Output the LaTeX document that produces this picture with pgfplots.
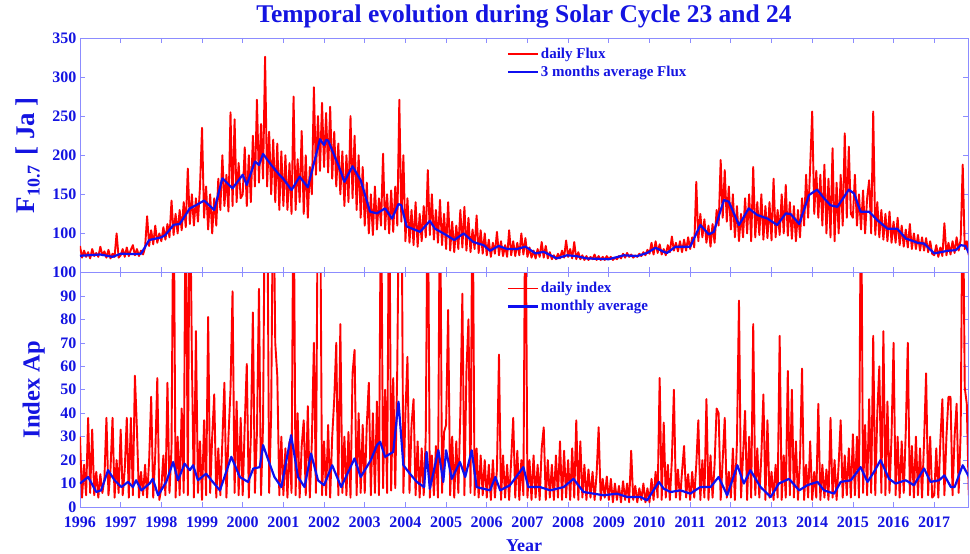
\documentclass[border=0pt]{standalone}
\usepackage{fontspec}
\setmainfont{Liberation Serif}
\usepackage{pgfplots}
\pgfplotsset{compat=1.18}
\definecolor{txtblue}{RGB}{20,20,225}
\definecolor{frameblue}{RGB}{140,140,255}
\definecolor{avgblue}{RGB}{15,15,240}
\definecolor{dayred}{RGB}{255,0,0}

\pgfplotsset{
  solarpanel/.style={
    scale only axis, width=888pt, height=234.5pt,
    xmin=1996, xmax=2017.83,
    xtick={1996,...,2017},
    axis line style={frameblue, line width=0.6pt},
    every tick/.style={frameblue, line width=0.6pt},
    major tick length=5pt,
    tick align=inside,
    /pgf/number format/assume math mode=true,
    /pgf/number format/1000 sep={},
    ticklabel style={font=\fontsize{16}{18}\selectfont\bfseries, text=txtblue},
    xticklabel style={yshift=-6pt},
    legend style={draw=none, fill=none, font=\fontsize{15}{18}\selectfont\bfseries,
      text=txtblue, at={(0.477,0.975)}, anchor=north west, row sep=2pt},
    legend cell align=left,
    legend image code/.code={\draw[##1] (0pt,0pt) -- (30pt,0pt);},
    ylabel style={anchor=center, text=txtblue},
  },
  daily/.style={dayred, line width=1.9pt, line join=round},
  average/.style={avgblue, line width=2.2pt, line join=round},
}

\begin{document}
\begin{tikzpicture}
% ---- lower panel: Ap index
\begin{axis}[solarpanel, at={(0pt,0pt)}, anchor=south west,
  ymin=0, ymax=100, ytick={0,10,...,100},
  xlabel={Year},
  xlabel style={at={(axis description cs:0.5,0)}, anchor=base, yshift=-45pt,
    font=\fontsize{18}{20}\selectfont\bfseries, text=txtblue},
  ylabel={Index Ap},
  ylabel style={at={(axis description cs:-0.052,0.5)}, font=\fontsize{24.5}{26}\selectfont\bfseries}]
\addplot[daily] table[header=false, row sep=\\, y index=0,
  x expr={1996+0.05*\coordindex}] {
30\\ 4\\ 18\\ 5\\ 38\\ 6\\ 33\\ 5\\ 15\\ 4\\ 14\\ 6\\ 12\\ 38\\ 5\\ 16\\ 38\\ 4\\ 20\\ 6\\
33\\ 5\\ 16\\ 38\\ 4\\ 38\\ 5\\ 56\\ 33\\ 4\\ 15\\ 5\\ 18\\ 4\\ 20\\ 47\\ 4\\ 22\\ 55\\ 3\\
8\\ 22\\ 5\\ 53\\ 6\\ 25\\ 150\\ 4\\ 30\\ 5\\ 42\\ 6\\ 150\\ 5\\ 150\\ 64\\ 4\\ 75\\ 6\\ 28\\
3\\ 37\\ 5\\ 81\\ 6\\ 30\\ 48\\ 4\\ 25\\ 5\\ 28\\ 53\\ 4\\ 30\\ 50\\ 92\\ 6\\ 45\\ 5\\ 38\\
5\\ 35\\ 61\\ 4\\ 30\\ 83\\ 6\\ 32\\ 93\\ 5\\ 35\\ 150\\ 150\\ 6\\ 40\\ 150\\ 70\\ 56\\ 5\\ 30\\
5\\ 25\\ 4\\ 28\\ 6\\ 150\\ 5\\ 40\\ 4\\ 26\\ 37\\ 5\\ 43\\ 4\\ 28\\ 70\\ 6\\ 150\\ 150\\ 5\\
28\\ 5\\ 35\\ 4\\ 30\\ 46\\ 70\\ 5\\ 78\\ 6\\ 30\\ 5\\ 32\\ 4\\ 57\\ 67\\ 5\\ 40\\ 6\\ 35\\
6\\ 35\\ 53\\ 5\\ 40\\ 6\\ 45\\ 5\\ 150\\ 8\\ 50\\ 6\\ 150\\ 7\\ 55\\ 8\\ 60\\ 150\\ 150\\ 6\\
40\\ 64\\ 6\\ 35\\ 46\\ 5\\ 28\\ 4\\ 25\\ 5\\ 30\\ 150\\ 4\\ 22\\ 5\\ 26\\ 4\\ 150\\ 6\\ 32\\
35\\ 84\\ 5\\ 30\\ 4\\ 28\\ 6\\ 40\\ 91\\ 5\\ 58\\ 80\\ 6\\ 150\\ 5\\ 25\\ 4\\ 22\\ 5\\ 20\\
4\\ 18\\ 3\\ 20\\ 4\\ 16\\ 65\\ 3\\ 22\\ 4\\ 18\\ 3\\ 20\\ 38\\ 4\\ 24\\ 3\\ 20\\ 5\\ 150\\
4\\ 20\\ 3\\ 22\\ 4\\ 18\\ 3\\ 25\\ 34\\ 3\\ 20\\ 4\\ 18\\ 3\\ 22\\ 4\\ 28\\ 3\\ 24\\ 4\\
20\\ 3\\ 25\\ 4\\ 37\\ 3\\ 28\\ 4\\ 18\\ 3\\ 16\\ 4\\ 15\\ 3\\ 14\\ 34\\ 3\\ 12\\ 4\\ 13\\
3\\ 12\\ 2\\ 10\\ 3\\ 9\\ 2\\ 11\\ 3\\ 10\\ 2\\ 24\\ 3\\ 9\\ 2\\ 8\\ 3\\ 10\\ 2\\ 8\\
2\\ 12\\ 3\\ 15\\ 4\\ 55\\ 3\\ 36\\ 4\\ 18\\ 3\\ 20\\ 50\\ 4\\ 16\\ 3\\ 15\\ 26\\ 4\\ 14\\
3\\ 15\\ 4\\ 18\\ 37\\ 3\\ 20\\ 4\\ 46\\ 3\\ 22\\ 4\\ 18\\ 42\\ 40\\ 3\\ 20\\ 38\\ 4\\ 15\\
4\\ 25\\ 3\\ 28\\ 88\\ 4\\ 22\\ 41\\ 3\\ 30\\ 4\\ 78\\ 5\\ 25\\ 4\\ 22\\ 48\\ 3\\ 37\\ 4\\
15\\ 3\\ 18\\ 4\\ 73\\ 3\\ 22\\ 4\\ 58\\ 5\\ 50\\ 4\\ 28\\ 3\\ 20\\ 59\\ 3\\ 18\\ 4\\ 28\\
3\\ 15\\ 4\\ 44\\ 3\\ 18\\ 4\\ 16\\ 3\\ 38\\ 4\\ 20\\ 3\\ 18\\ 37\\ 4\\ 22\\ 5\\ 25\\ 4\\
31\\ 5\\ 30\\ 4\\ 150\\ 6\\ 35\\ 5\\ 46\\ 6\\ 73\\ 5\\ 40\\ 60\\ 6\\ 75\\ 5\\ 45\\ 6\\ 30\\
70\\ 5\\ 30\\ 4\\ 28\\ 6\\ 32\\ 70\\ 5\\ 26\\ 4\\ 30\\ 5\\ 25\\ 4\\ 28\\ 57\\ 5\\ 30\\ 4\\
5\\ 25\\ 4\\ 28\\ 46\\ 5\\ 30\\ 47\\ 47\\ 5\\ 30\\ 44\\ 6\\ 32\\ 150\\ 51\\ 44\\ 5\\
};
\addlegendentry{daily index}
\addplot[average] coordinates {
(1996.0,10) (1996.2,12.8) (1996.4,6.4) (1996.52,7.1) (1996.69,15.7) (1996.85,11.4)
(1997.02,8.5) (1997.18,10.7) (1997.3,8.5) (1997.38,11.4) (1997.51,7.1) (1997.71,10)
(1997.79,12) (1997.92,5) (1998.12,10.7) (1998.29,19.2) (1998.41,11.4) (1998.57,18.5)
(1998.7,15.7) (1998.78,17.8) (1998.9,11.4) (1999.1,14.2) (1999.23,11.4) (1999.44,7.1)
(1999.72,21.4) (1999.93,12.8) (2000.13,10.7) (2000.26,16.4) (2000.42,17) (2000.5,26.4)
(2000.66,18.5) (2000.78,12.8) (2000.95,8.5) (2001.19,30.6) (2001.36,12.8) (2001.52,8.5)
(2001.68,22.8) (2001.85,11.4) (2002.0,9.3) (2002.2,17.8) (2002.42,8.5) (2002.75,20.7)
(2002.9,12.8) (2003.15,20) (2003.3,26.4) (2003.38,27.8) (2003.5,21.4) (2003.7,23.5)
(2003.83,44.9) (2003.95,17.8) (2004.11,14.2) (2004.28,10.7) (2004.46,8.5) (2004.52,23.5)
(2004.6,7.8) (2004.81,24.2) (2004.93,10.7) (2005.0,24.2) (2005.14,12) (2005.34,19.2)
(2005.47,12.8) (2005.63,24.2) (2005.75,8.5) (2006.08,7.1) (2006.21,12.8) (2006.33,7.1)
(2006.57,9.3) (2006.9,17) (2007.02,8.5) (2007.31,8.5) (2007.56,7.1) (2007.89,8.5)
(2008.13,12) (2008.38,6.4) (2008.87,5) (2009.2,5.7) (2009.45,4.3) (2009.78,4.3)
(2009.94,2.8) (2010.23,10.7) (2010.35,7.8) (2010.52,6.4) (2010.76,7.1) (2011.0,5.7)
(2011.25,8.5) (2011.5,8.5) (2011.7,12.8) (2011.91,5) (2012.16,17.8) (2012.32,10)
(2012.48,15.7) (2012.73,8.5) (2012.98,4.3) (2013.18,10) (2013.43,12) (2013.68,7.1)
(2013.88,9.3) (2014.13,10.7) (2014.29,7.1) (2014.54,5.7) (2014.7,10.7) (2014.95,11.4)
(2015.19,17) (2015.36,10.7) (2015.52,15) (2015.68,20) (2015.89,12) (2016.05,10)
(2016.3,11.4) (2016.5,9.3) (2016.75,16.4) (2016.91,10.7) (2017.12,11.4) (2017.25,13.5)
(2017.41,8.5) (2017.5,8.5) (2017.7,17.8) (2017.9,11.4)
};
\addlegendentry{monthly average}
\end{axis}
% ---- upper panel: F10.7 flux
\begin{axis}[solarpanel, at={(0pt,234.5pt)}, anchor=south west,
  ymin=50, ymax=350, ytick={100,150,...,350}, xticklabels={},
  title={Temporal evolution during Solar Cycle 23 and 24},
  title style={at={(axis description cs:0.5,1)}, anchor=base, yshift=9pt,
    font=\fontsize{25.5}{28}\selectfont\bfseries, text=txtblue},
  ylabel={F\raisebox{-0.45ex}{\fontsize{18}{18}\selectfont 10.7}\hspace{10pt}[ Ja ]},
  ylabel style={at={(axis description cs:-0.059,0.5)}, font=\fontsize{27}{29}\selectfont\bfseries}]
\addplot[daily] table[header=false, row sep=\\, y index=0,
  x expr={1996+0.05*\coordindex}] {
84\\ 69\\ 78\\ 70\\ 76\\ 68\\ 80\\ 71\\ 75\\ 70\\ 83\\ 72\\ 77\\ 69\\ 79\\ 68\\ 74\\ 70\\ 100\\ 69\\
72\\ 80\\ 70\\ 82\\ 71\\ 79\\ 85\\ 72\\ 80\\ 71\\ 78\\ 73\\ 82\\ 122\\ 84\\ 104\\ 86\\ 110\\ 88\\ 100\\
90\\ 108\\ 92\\ 112\\ 95\\ 142\\ 98\\ 125\\ 100\\ 130\\ 104\\ 140\\ 108\\ 183\\ 112\\ 150\\ 110\\ 145\\ 115\\ 160\\
235\\ 120\\ 160\\ 105\\ 150\\ 100\\ 145\\ 110\\ 170\\ 130\\ 200\\ 135\\ 175\\ 128\\ 255\\ 135\\ 246\\ 140\\ 190\\ 145\\
150\\ 210\\ 135\\ 200\\ 140\\ 225\\ 160\\ 271\\ 165\\ 240\\ 170\\ 326\\ 160\\ 230\\ 150\\ 220\\ 140\\ 215\\ 130\\ 205\\
135\\ 200\\ 130\\ 190\\ 125\\ 275\\ 130\\ 195\\ 140\\ 231\\ 125\\ 200\\ 120\\ 185\\ 150\\ 287\\ 175\\ 250\\ 180\\ 267\\
185\\ 254\\ 178\\ 262\\ 170\\ 230\\ 160\\ 215\\ 150\\ 205\\ 135\\ 200\\ 140\\ 250\\ 145\\ 225\\ 130\\ 200\\ 120\\ 185\\
110\\ 165\\ 100\\ 150\\ 98\\ 160\\ 105\\ 145\\ 110\\ 202\\ 105\\ 150\\ 100\\ 155\\ 102\\ 160\\ 110\\ 271\\ 115\\ 200\\
90\\ 145\\ 88\\ 130\\ 85\\ 140\\ 83\\ 125\\ 90\\ 135\\ 95\\ 181\\ 98\\ 150\\ 92\\ 130\\ 88\\ 143\\ 85\\ 125\\
80\\ 140\\ 78\\ 115\\ 76\\ 110\\ 80\\ 130\\ 82\\ 134\\ 78\\ 120\\ 76\\ 105\\ 80\\ 123\\ 75\\ 104\\ 74\\ 100\\
72\\ 92\\ 70\\ 88\\ 74\\ 102\\ 72\\ 90\\ 71\\ 85\\ 70\\ 104\\ 72\\ 90\\ 71\\ 88\\ 72\\ 100\\ 73\\ 94\\
70\\ 82\\ 69\\ 78\\ 68\\ 80\\ 70\\ 89\\ 69\\ 84\\ 68\\ 76\\ 67\\ 72\\ 67\\ 74\\ 68\\ 78\\ 69\\ 91\\
70\\ 80\\ 68\\ 89\\ 67\\ 76\\ 67\\ 72\\ 66\\ 71\\ 66\\ 70\\ 67\\ 73\\ 66\\ 71\\ 66\\ 70\\ 66\\ 71\\
67\\ 70\\ 66\\ 69\\ 67\\ 71\\ 68\\ 74\\ 69\\ 75\\ 70\\ 73\\ 69\\ 72\\ 70\\ 74\\ 71\\ 76\\ 72\\ 79\\
74\\ 88\\ 73\\ 90\\ 75\\ 86\\ 73\\ 80\\ 72\\ 85\\ 76\\ 96\\ 78\\ 88\\ 77\\ 90\\ 76\\ 92\\ 78\\ 95\\
80\\ 95\\ 82\\ 166\\ 90\\ 125\\ 95\\ 118\\ 88\\ 110\\ 83\\ 112\\ 88\\ 130\\ 110\\ 194\\ 120\\ 181\\ 115\\ 160\\
105\\ 150\\ 95\\ 135\\ 90\\ 125\\ 95\\ 145\\ 100\\ 150\\ 90\\ 185\\ 95\\ 140\\ 98\\ 150\\ 92\\ 135\\ 94\\ 140\\
91\\ 170\\ 95\\ 130\\ 98\\ 150\\ 100\\ 162\\ 97\\ 140\\ 93\\ 135\\ 90\\ 130\\ 95\\ 145\\ 110\\ 175\\ 120\\ 185\\
256\\ 125\\ 180\\ 120\\ 175\\ 110\\ 188\\ 100\\ 170\\ 95\\ 209\\ 90\\ 165\\ 100\\ 175\\ 110\\ 228\\ 120\\ 211\\ 125\\
120\\ 175\\ 110\\ 150\\ 105\\ 155\\ 100\\ 145\\ 168\\ 100\\ 256\\ 98\\ 140\\ 95\\ 130\\ 92\\ 125\\ 90\\ 128\\ 88\\
115\\ 88\\ 120\\ 85\\ 110\\ 83\\ 105\\ 82\\ 112\\ 80\\ 100\\ 80\\ 98\\ 78\\ 95\\ 78\\ 94\\ 76\\ 90\\ 74\\
72\\ 85\\ 70\\ 82\\ 71\\ 113\\ 72\\ 88\\ 73\\ 90\\ 75\\ 95\\ 78\\ 92\\ 188\\ 80\\ 90\\ 72\\
};
\addlegendentry{daily Flux}
\addplot[average] coordinates {
(1996.0,71.4) (1996.5,73) (1996.8,70) (1997.0,74) (1997.4,73.5) (1997.5,74) (1997.7,91.5)
(1998.0,95) (1998.1,98) (1998.3,111) (1998.45,112) (1998.7,132) (1998.85,136) (1999.05,142)
(1999.3,130) (1999.5,170.5) (1999.75,157.7) (2000.0,175) (2000.1,162) (2000.3,192)
(2000.4,187.6) (2000.5,201.7) (2000.7,187.6) (2000.9,175) (2001.0,169.7) (2001.2,155.5)
(2001.4,172.6) (2001.6,159) (2001.75,189.7) (2001.9,220.5) (2002.0,213) (2002.05,219.6)
(2002.1,218.8) (2002.35,187.6) (2002.5,166) (2002.7,186) (2002.9,168) (2003.13,127.8)
(2003.3,125.6) (2003.5,132) (2003.67,119) (2003.83,137.6) (2003.9,136) (2004.03,109)
(2004.36,102) (2004.6,116) (2004.73,106) (2005.0,98) (2005.2,91.5) (2005.43,100)
(2005.67,89) (2005.92,85) (2006.08,77.8) (2006.29,84) (2006.5,80) (2006.74,80)
(2006.95,83) (2007.2,74.4) (2007.4,76.5) (2007.72,68) (2007.97,72) (2008.2,71)
(2008.46,68) (2009.0,67) (2009.37,72) (2009.7,71) (2009.94,75) (2010.15,81.6)
(2010.35,76.5) (2010.43,75) (2010.64,83) (2011.0,83) (2011.25,110.7) (2011.46,98.7)
(2011.58,102) (2011.83,142.7) (2011.95,140.6) (2012.2,110.7) (2012.44,132) (2012.65,123.5)
(2012.9,119) (2013.14,110.7) (2013.35,125.6) (2013.47,124.8) (2013.68,112) (2013.92,149)
(2014.12,156) (2014.29,145) (2014.45,136) (2014.62,134) (2014.9,156) (2015.03,151)
(2015.19,127.8) (2015.4,127.8) (2015.6,117) (2015.85,106) (2016.09,106) (2016.3,93.6)
(2016.59,88) (2016.75,87) (2017.0,74.4) (2017.33,77.8) (2017.53,78.6) (2017.65,85)
(2017.77,84) (2017.9,69)
};
\addlegendentry{3 months average Flux}
\end{axis}
\pgfresetboundingbox
\useasboundingbox (-80pt,-47pt) rectangle (890pt,507pt);
\end{tikzpicture}
\end{document}
